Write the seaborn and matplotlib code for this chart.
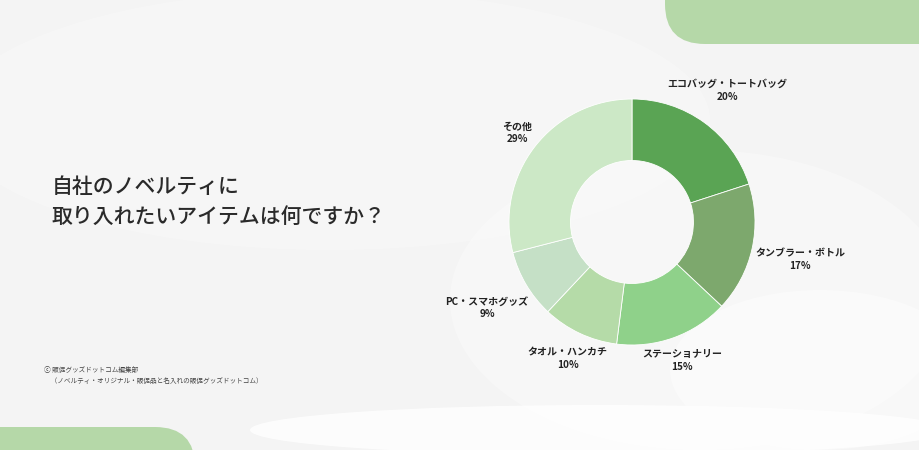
import numpy as np
import matplotlib
matplotlib.use("Agg")
import matplotlib.pyplot as plt
from matplotlib.patches import FancyBboxPatch, Ellipse
import seaborn as sns

sns.set_theme(style="white")
plt.rcParams["font.family"] = ["Noto Sans CJK JP", "DejaVu Sans"]

# data
items = ["エコバッグ・トートバッグ", "タンブラー・ボトル", "ステーショナリー",
         "タオル・ハンカチ", "PC・スマホグッズ", "その他"]
shares = [20, 17, 15, 10, 9, 29]
colors = ["#5aa454", "#7da86d", "#8fd18a", "#b5dba8", "#c5e0c6", "#cce8c6"]
label_dist = [1.32, 1.40, 1.20, 1.23, 1.37, 1.18]

title = "自社のノベルティに\n取り入れたいアイテムは何ですか？"
source = "ⓒ 販促グッズドットコム編集部\n　（ノベルティ・オリジナル・販促品と名入れの販促グッズドットコム）"

W, H = 920, 450
fig = plt.figure(figsize=(9.2, 4.5), dpi=100)
ax = fig.add_axes([0, 0, 1, 1])
ax.set_xlim(0, W)
ax.set_ylim(0, H)
ax.set_aspect("equal")
ax.axis("off")
fig.patch.set_facecolor("#f4f4f4")

# soft background shapes
for (cx, cy, w, h, a) in [(330, 330, 760, 260, 0.25), (700, 150, 500, 300, 0.3),
                          (820, 80, 300, 160, 0.4), (600, 20, 700, 50, 0.8)]:
    ax.add_patch(Ellipse((cx, cy), w, h, color="white", alpha=a, lw=0, zorder=0))

# green corner shapes
ax.add_patch(FancyBboxPatch((705, 446), 300, 100,
                            boxstyle="round,pad=40,rounding_size=40",
                            fc="#b5d8a8", ec="none", zorder=1))
ax.add_patch(FancyBboxPatch((-100, -100), 255, 83,
                            boxstyle="round,pad=40,rounding_size=40",
                            fc="#b5d8a8", ec="none", zorder=1))

cx, cy, R = 632, 450 - 222, 123
wedges, _ = ax.pie(shares, colors=colors, startangle=90, counterclock=False,
                   center=(cx, cy), radius=R,
                   wedgeprops=dict(width=R * 0.5, edgecolor="white", linewidth=0.6))
ax.set_xlim(0, W)
ax.set_ylim(0, H)
ax.axis("off")

for w, name, val, d in zip(wedges, items, shares, label_dist):
    ang = np.deg2rad((w.theta1 + w.theta2) / 2)
    x = cx + R * d * np.cos(ang)
    y = cy + R * d * np.sin(ang)
    ax.text(x, y, f"{name}\n{val}%", ha="center", va="center", fontsize=7.2,
            fontweight="bold", color="#222222", linespacing=1.35, zorder=5)

ax.text(52, 450 - 202, title, ha="left", va="center", fontsize=15,
        fontweight="medium", color="#2a2a2a", linespacing=1.45, zorder=5)
ax.text(44, 450 - 375, source, ha="left", va="center", fontsize=4.8,
        color="#444444", linespacing=1.5, zorder=5)

fig.savefig("out.png", dpi=100, facecolor=fig.get_facecolor())
